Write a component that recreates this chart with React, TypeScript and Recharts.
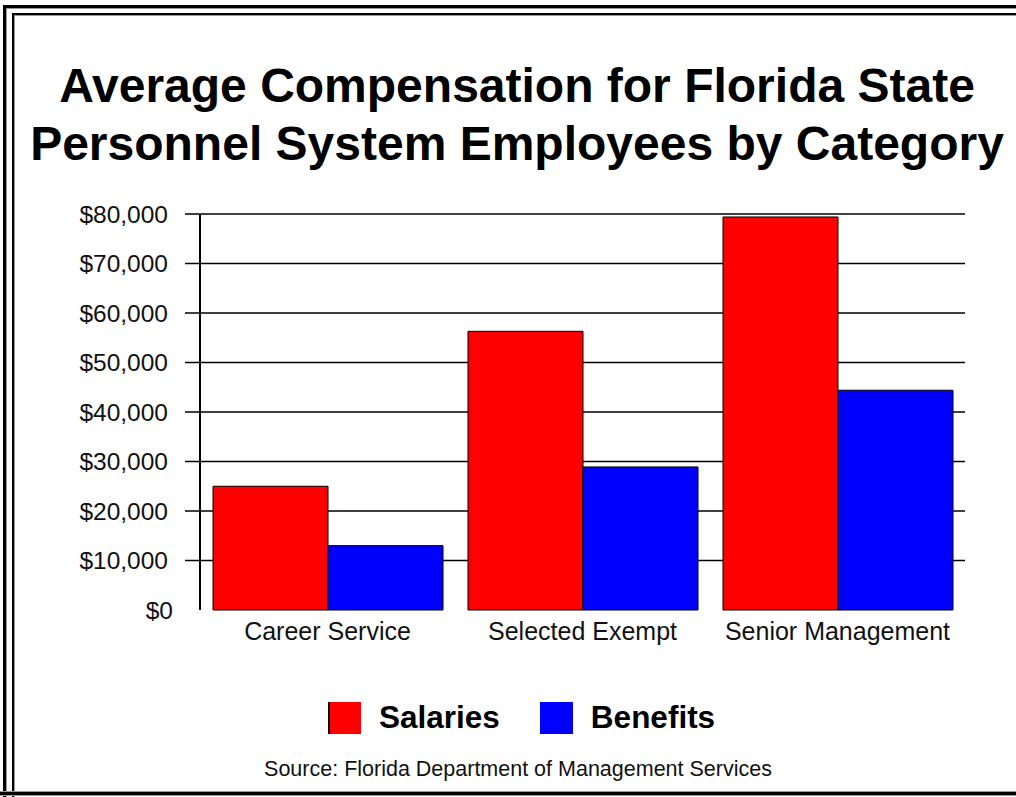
import React from "react";
import { BarChart, Bar, XAxis, YAxis, CartesianGrid } from "recharts";

const categories = ["Career Service", "Selected Exempt", "Senior Management"];
const salaries = [25000, 56300, 79400];
const benefits = [13000, 28900, 44400];
const yTicks = [0, 10000, 20000, 30000, 40000, 50000, 60000, 70000, 80000];
const yMax = 80000;
const seriesNames = ["Salaries", "Benefits"];
const seriesColors = ["#ff0000", "#0000ff"];

const titleLines = [
  "Average Compensation for Florida State",
  "Personnel System Employees by Category",
];
const sourceText = "Source: Florida Department of Management Services";

const FONT = "'Liberation Sans', Arial, sans-serif";

const money = (v: number) => "$" + v.toLocaleString("en-US");

const YTick = (props: any) => {
  const { x, y, payload } = props;
  return (
    <g>
      {payload.value !== 0 && (
        <line x1={x - 15} x2={x} y1={y} y2={y} stroke="#000" strokeWidth={1.5} />
      )}
      <text
        x={payload.value === 0 ? x - 27 : x - 32}
        y={y}
        textAnchor="end"
        dominantBaseline="central"
        fontFamily={FONT}
        fontSize={24.5}
        fill="#111"
      >
        {money(payload.value)}
      </text>
    </g>
  );
};

// grid lines at every tick except $0 (no line along the base in the original)
const gridRows = ({ yAxis, offset }: any) => {
  const vals = yTicks.filter((v) => v > 0);
  const sc = yAxis && yAxis.scale;
  if (typeof sc === "function") return vals.map((v) => sc(v));
  if (sc && typeof sc.map === "function") return vals.map((v) => sc.map(v));
  return vals.map((v) => offset.top + offset.height * (1 - v / yMax));
};

export default function App() {
  const data = categories.map((c, i) => ({
    name: c,
    Salaries: salaries[i],
    Benefits: benefits[i],
  }));

  return (
    <div
      style={{
        position: "absolute",
        left: 0,
        top: 0,
        width: 1016,
        height: 797,
        background: "#fff",
        overflow: "hidden",
        fontFamily: FONT,
      }}
    >
      {/* frame */}
      <div style={{ position: "absolute", left: 3, top: 5, width: 1100, height: 900, borderLeft: "3px solid #000", borderTop: "3px solid #000" }} />
      <div style={{ position: "absolute", left: 6, top: 8, width: 1100, height: 900, borderLeft: "1px solid #999", borderTop: "1px solid #999" }} />
      <div style={{ position: "absolute", left: 12, top: 13, width: 1100, height: 900, borderLeft: "2px solid #000", borderTop: "2px solid #000" }} />
      <div style={{ position: "absolute", left: 14, top: 15, width: 1100, height: 900, borderLeft: "1px solid #999", borderTop: "1px solid #999" }} />
      <div style={{ position: "absolute", left: 0, top: 791, width: 1016, height: 3, background: "#000", borderTop: "1px solid #999", borderBottom: "1px solid #999" }} />

      {/* title */}
      {titleLines.map((t, i) => (
        <div
          key={t}
          style={{
            position: "absolute",
            left: 0,
            width: 1034,
            top: 58 + i * 58,
            textAlign: "center",
            fontSize: 48,
            fontWeight: "bold",
            lineHeight: "56px",
            color: "#000",
            whiteSpace: "nowrap",
          }}
        >
          {t}
        </div>
      ))}

      <div style={{ position: "absolute", left: 0, top: 0 }}>
        <BarChart
          width={1016}
          height={797}
          data={data}
          margin={{ top: 214, right: 51, left: 0, bottom: 147 }}
          barCategoryGap={13}
          barGap={0}
        >
          <CartesianGrid
            vertical={false}
            stroke="#000"
            strokeWidth={1.5}
            horizontalCoordinatesGenerator={gridRows}
          />
          <XAxis
            dataKey="name"
            height={40}
            axisLine={false}
            tickLine={false}
            tickSize={0}
            tickMargin={12}
            interval={0}
            tick={{ fontFamily: FONT, fontSize: 25, fill: "#111" }}
          />
          <YAxis
            width={200}
            domain={[0, yMax]}
            ticks={yTicks}
            interval={0}
            axisLine={{ stroke: "#000", strokeWidth: 2 }}
            tickLine={false}
            tickSize={0}
            tickMargin={0}
            tick={<YTick />}
          />
          {seriesNames.map((s, i) => (
            <Bar
              key={s}
              dataKey={s}
              fill={seriesColors[i]}
              stroke="#000"
              strokeWidth={1}
              isAnimationActive={false}
            />
          ))}
        </BarChart>
      </div>

      {/* legend */}
      <div
        style={{
          position: "absolute",
          top: 699,
          left: 328,
          display: "flex",
          alignItems: "center",
        }}
      >
        {seriesNames.map((s, i) => (
          <div key={s} style={{ display: "flex", alignItems: "center", marginRight: i === 0 ? 40 : 0 }}>
            <div
              style={{
                width: 33,
                height: 32,
                background: seriesColors[i],
                boxSizing: "border-box",
                borderLeft: i === 0 ? "2px solid #000" : "none",
              }}
            />
            <span style={{ marginLeft: 18, fontSize: 31.5, fontWeight: "bold", color: "#000" }}>{s}</span>
          </div>
        ))}
      </div>

      {/* source */}
      <div
        style={{
          position: "absolute",
          left: 0,
          width: 1036,
          top: 756,
          textAlign: "center",
          fontSize: 21.5,
          lineHeight: "26px",
          color: "#111",
          whiteSpace: "nowrap",
        }}
      >
        {sourceText}
      </div>
    </div>
  );
}
